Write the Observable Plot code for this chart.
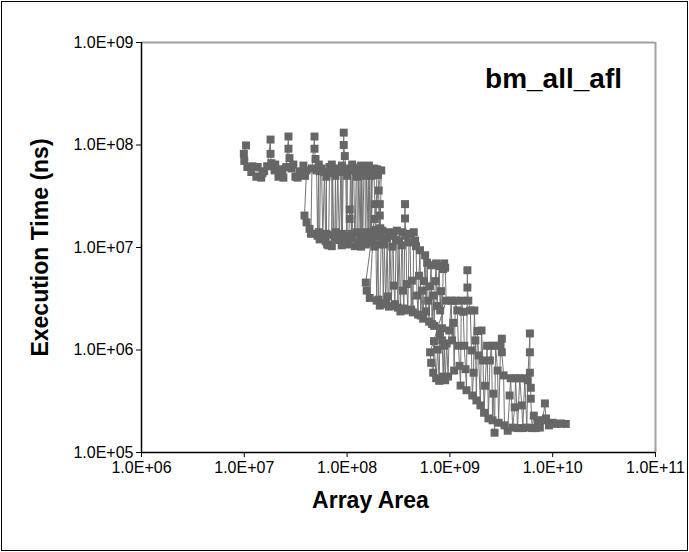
<!DOCTYPE html>
<html><head><meta charset="utf-8">
<script src="https://cdn.jsdelivr.net/npm/d3@7"></script>
<script src="https://cdn.jsdelivr.net/npm/@observablehq/plot@0.6"></script>
<style>
body{margin:0;background:#fff}
</style></head><body><div id="chart"></div>
<script>
// [array area, execution time (ns)], in drawing order
const segmentA = [
  [1.04e7, 9.9e7],[9.9e6, 8.2e7],[1.0e7, 7.0e7],[1.07e7, 6.1e7],[1.17e7, 5.45e7],[1.2e7, 6.2e7],[1.31e7, 4.9e7],
  [1.35e7, 6.1e7],[1.46e7, 4.8e7],[1.5e7, 5.3e7],[1.56e7, 5.55e7],[1.67e7, 6.2e7],
  [1.8e7, 1.13e8],[1.8e7, 8.2e7],[1.84e7, 6.65e7],[1.97e7, 5.65e7],[2.0e7, 6.45e7],[2.15e7, 4.9e7],[2.2e7, 5.8e7],
  [2.35e7, 5.45e7],[2.4e7, 4.8e7],[2.56e7, 6.1e7],
  [2.69e7, 1.21e8],[2.69e7, 9.2e7],[2.75e7, 7.45e7],[2.87e7, 5.9e7],[3.0e7, 6.45e7],[3.14e7, 4.9e7],[3.3e7, 4.8e7],
  [3.44e7, 5.45e7],[3.6e7, 5.55e7],[3.76e7, 6.3e7],[3.9e7, 5.0e7],[4.03e7, 5.65e7],
  [3.85e7, 2.05e7],[4.03e7, 1.76e7],[4.31e7, 1.52e7],[4.45e7, 1.36e7],[4.55e7, 5.9e7],
  [4.82e7, 1.21e8],[4.82e7, 9.2e7],[4.93e7, 7.3e7],[5.05e7, 5.65e7],[5.16e7, 1.3e7],[5.3e7, 6.45e7],[5.3e7, 1.41e7],
  [5.4e7, 1.2e7],[5.5e7, 5.55e7],[5.65e7, 5.9e7],[5.8e7, 1.23e7],[6.03e7, 5.45e7],[6.18e7, 1.15e7],[6.3e7, 4.9e7],
  [6.3e7, 1.36e7],[6.4e7, 1.07e7],[6.6e7, 1.05e7],[6.76e7, 6.1e7],[7.0e7, 5.3e7],[7.1e7, 6.45e7],[7.1e7, 1.03e7],
  [7.23e7, 5.65e7],[7.4e7, 1.32e7],[7.6e7, 1.27e7],[7.7e7, 5.0e7],[7.8e7, 1.41e7],[7.9e7, 1.22e7],[8.1e7, 5.9e7],
  [8.4e7, 1.18e7],[8.7e7, 5.45e7],[8.86e7, 1.05e7],[8.9e7, 6.3e7],[9.0e7, 1.36e7],
  [9.27e7, 1.32e8],[9.27e7, 1.0e8],[9.5e7, 7.8e7],[9.7e7, 5.9e7],[9.9e7, 1.17e7],[1.0e8, 5.0e7],[1.0e8, 1.07e7],
  [1.04e8, 1.3e7],[1.06e8, 2.35e7],[1.06e8, 1.9e7],[1.08e8, 5.65e7],[1.1e8, 1.36e7],[1.12e8, 6.45e7],[1.12e8, 1.23e7],
  [1.13e8, 6.1e7],[1.16e8, 5.8e7],[1.19e8, 1.03e7],[1.23e8, 5.45e7],[1.25e8, 4.9e7],[1.25e8, 1.41e7],[1.27e8, 1.12e7],
  [1.30e8, 5.9e7],[1.34e8, 1.23e7],[1.37e8, 6.3e7],[1.37e8, 1.02e7],[1.39e8, 5.55e7],[1.42e8, 1.22e7],[1.46e8, 5.8e7],
  [1.5e8, 5.0e7],[1.5e8, 1.41e7],[1.52e8, 1.07e7],[1.55e8, 6.0e7],[1.6e8, 1.3e7],[1.63e8, 6.3e7],[1.63e8, 1.12e7],
  [1.66e8, 5.65e7],[1.70e8, 1.17e7],[1.73e8, 5.0e7],[1.73e8, 1.41e7],[1.76e8, 5.45e7],[1.82e8, 5.9e7],[1.86e8, 2.65e7],
  [1.86e8, 1.9e7],[1.9e8, 1.3e7],[1.95e8, 5.8e7],[1.98e8, 5.65e7],[2.0e8, 5.1e7],[2.03e8, 3.6e7],[2.05e8, 1.3e7],
  [2.08e8, 2.65e7],[2.08e8, 2.05e7],[2.1e8, 1.54e7],[2.15e8, 5.65e7]
];
const segmentB = [
  [1.75e8, 1.32e7],[1.52e8, 4.55e6],[1.55e8, 3.8e6],[1.66e8, 3.22e6],[1.78e8, 1.17e7],[1.85e8, 1.02e7],[1.9e8, 1.48e7],
  [1.94e8, 3.03e6],[2.0e8, 1.07e7],[2.02e8, 3.1e6],[2.08e8, 2.71e6],[2.15e8, 1.22e7],[2.2e8, 1.46e7],[2.25e8, 2.8e6],
  [2.3e8, 1.07e7],[2.38e8, 2.85e6],[2.45e8, 1.23e7],[2.5e8, 3.33e6],[2.55e8, 2.65e6],[2.6e8, 1.41e7],[2.7e8, 2.69e6],
  [2.75e8, 1.02e7],[2.8e8, 1.3e7],[2.85e8, 4.25e6],[2.92e8, 2.8e6],[3.0e8, 1.18e7],[3.05e8, 1.46e7],[3.12e8, 2.59e6],
  [3.2e8, 1.17e7],[3.3e8, 2.38e6],[3.4e8, 1.05e7],[3.45e8, 1.41e7],[3.5e8, 3.8e6],[3.57e8, 2.54e6],[3.66e8, 2.65e7],
  [3.66e8, 1.92e7],[3.74e8, 1.3e7],[3.8e8, 4.4e6],[3.9e8, 2.43e6],[4.0e8, 1.12e7],[4.09e8, 1.36e7],[4.2e8, 2.48e6],
  [4.27e8, 4.75e6],[4.37e8, 2.33e6],[4.45e8, 1.41e7],[4.58e8, 1.17e7],[4.68e8, 1.03e7],[4.79e8, 3.4e6],[4.9e8, 2.22e6],
  [5.0e8, 5.3e6],[5.12e8, 9.4e6],[5.2e8, 2.17e6],[5.36e8, 3.8e6],[5.5e8, 2.02e6],[5.6e8, 4.7e6],[5.74e8, 8.4e6],
  [5.85e8, 2.38e6],[6.0e8, 7.1e6],[6.14e8, 3.03e6],[6.28e8, 1.89e6],[6.4e8, 4.18e6],[6.57e8, 6.7e6],[6.7e8, 1.79e6],
  [6.88e8, 3.4e6],[7.03e8, 1.72e6],[7.2e8, 4.7e6],[7.35e8, 7.0e6],[7.5e8, 2.69e6],[7.87e8, 6.6e6],[8.04e8, 2.43e6],
  [8.2e8, 3.75e6],[8.4e8, 1.63e6],[8.6e8, 6.15e6],[8.8e8, 7.0e6],[9.0e8, 6.35e6],[9.2e8, 3.03e6]
];
const segmentC = [
  [6.42e8, 9.5e5],[6.57e8, 7.5e5],[6.88e8, 6.0e5],[7.0e8, 1.22e6],[7.35e8, 5.3e5],[7.6e8, 1.01e6],[7.87e8, 5.0e5],
  [8.0e8, 1.43e6],[8.4e8, 1.24e6],[8.6e8, 5.5e5],[8.8e8, 1.1e6],[9.0e8, 5.07e5],[9.3e8, 1.16e6],[9.6e8, 5.5e5],
  [9.86e8, 1.55e6],[1.03e9, 3.03e6],[1.05e9, 1.24e6],[1.08e9, 1.84e6],[1.1e9, 6.3e5],[1.13e9, 3.03e6],[1.18e9, 2.43e6],
  [1.21e9, 1.1e6],[1.24e9, 7.0e5],[1.27e9, 4.5e5],[1.29e9, 3.03e6],[1.35e9, 2.36e6],[1.38e9, 1.1e6],[1.42e9, 6.5e5],
  [1.45e9, 4.05e5],[1.48e9, 6.0e6],[1.48e9, 4.07e6],[1.51e9, 3.03e6],[1.58e9, 2.43e6],[1.62e9, 9.9e5],[1.65e9, 3.6e5],
  [1.7e9, 6.0e5],[1.73e9, 2.43e6],[1.77e9, 1.24e6],[1.81e9, 3.22e5],[1.85e9, 1.53e6],[1.9e9, 8.85e5],[1.98e9, 2.88e5],
  [2.03e9, 1.55e6],[2.1e9, 7.9e5],[2.15e9, 2.44e5],[2.2e9, 4.48e5],[2.3e9, 1.1e6],[2.37e9, 2.15e5],[2.45e9, 7.9e5],
  [2.54e9, 1.1e6],[2.6e9, 2.06e5],[2.65e9, 3.75e5],[2.72e9, 1.56e5],[2.78e9, 1.1e6],[2.91e9, 6.3e5],[2.98e9, 1.95e5],
  [3.11e9, 1.1e6],[3.2e9, 1.29e6],[3.2e9, 9.5e5],[3.33e9, 5.65e5],[3.4e9, 1.84e5]
];
const segmentD = [
  [3.65e9, 1.63e5],[3.81e9, 3.6e5],[3.9e9, 5.3e5],[4.08e9, 1.75e5],[4.27e9, 2.76e5],[4.36e9, 5.3e5],
  [4.55e9, 1.73e5],[4.78e9, 5.3e5],[5.0e9, 2.88e5],[5.12e9, 1.73e5],[5.35e9, 5.3e5],[5.6e9, 1.75e5],
  [5.72e9, 5.07e5],[6.0e9, 1.45e6],[6.0e9, 9.5e5],[6.0e9, 6.0e5],[6.12e9, 4.28e5],[6.12e9, 3.35e5],
  [6.3e9, 1.73e5],[6.55e9, 2.29e5],[6.85e9, 1.73e5],[7.15e9, 2.06e5],[7.5e9, 1.75e5],[8.0e9, 2.06e5],
  [8.4e9, 3.01e5],[8.6e9, 2.15e5],[9.2e9, 1.84e5],[1.0e10, 1.95e5],[1.1e10, 1.9e5],[1.2e10, 1.92e5],
  [1.34e10, 1.9e5]
];
const xTicks = [1e6, 1e7, 1e8, 1e9, 1e10, 1e11];
const xTickLabels = ["1.0E+06", "1.0E+07", "1.0E+08", "1.0E+09", "1.0E+10", "1.0E+11"];
const yTicks = [1e5, 1e6, 1e7, 1e8, 1e9];
const yTickLabels = ["1.0E+05", "1.0E+06", "1.0E+07", "1.0E+08", "1.0E+09"];
const chartTitle = "bm_all_afl";
const xTitle = "Array Area";
const yTitle = "Execution Time (ns)";

const data = [...segmentA, ...segmentB, ...segmentC, ...segmentD].map(([area, time]) => ({area, time}));

const plot = Plot.plot({
  width: 689, height: 552,
  marginLeft: 141, marginRight: 34, marginTop: 42, marginBottom: 100,
  style: {fontFamily: "'Liberation Sans', Arial, sans-serif", fontSize: "16px", color: "#000", background: "#fff"},
  x: {type: "log", domain: [1e6, 1e11]},
  y: {type: "log", domain: [1e5, 1e9]},
  marks: [
    Plot.frame({stroke: "#000", insetLeft: -140, insetTop: -41, insetRight: -32, insetBottom: -98}),
    Plot.ruleY([yTicks[yTicks.length - 1]], {stroke: "#a0a0a0", strokeWidth: 2}),
    Plot.ruleX([xTicks[xTicks.length - 1]], {stroke: "#a0a0a0", strokeWidth: 2}),
    Plot.line(data, {x: "area", y: "time", stroke: "#747474", strokeWidth: 1}),
    Plot.dot(data, {x: "area", y: "time", symbol: "square", r: 4.5, fill: "#666666", stroke: "none"}),
    Plot.ruleX([xTicks[0]], {stroke: "#000", strokeWidth: 1.5}),
    Plot.ruleY([yTicks[0]], {stroke: "#000", strokeWidth: 1.5}),
    Plot.axisX({ticks: xTicks, tickFormat: d => xTickLabels[xTicks.indexOf(d)], tickSize: 5, tickPadding: 4, label: null, fontSize: 16}),
    Plot.axisY({ticks: yTicks, tickFormat: d => yTickLabels[yTicks.indexOf(d)], tickSize: 5, tickPadding: 3, label: null, fontSize: 16}),
    Plot.text([chartTitle], {frameAnchor: "top-right", dx: -102, dy: 37, textAnchor: "middle", lineAnchor: "middle", fontSize: 28, fontWeight: "bold"}),
    Plot.text([xTitle], {frameAnchor: "bottom", dx: -28, dy: 48, textAnchor: "middle", lineAnchor: "middle", fontSize: 23, fontWeight: "bold"}),
    Plot.text([yTitle], {frameAnchor: "left", dx: -101, dy: 0, rotate: -90, textAnchor: "middle", lineAnchor: "middle", fontSize: 23, fontWeight: "bold"})
  ]
});
document.getElementById("chart").appendChild(plot);
</script>
</body></html>
